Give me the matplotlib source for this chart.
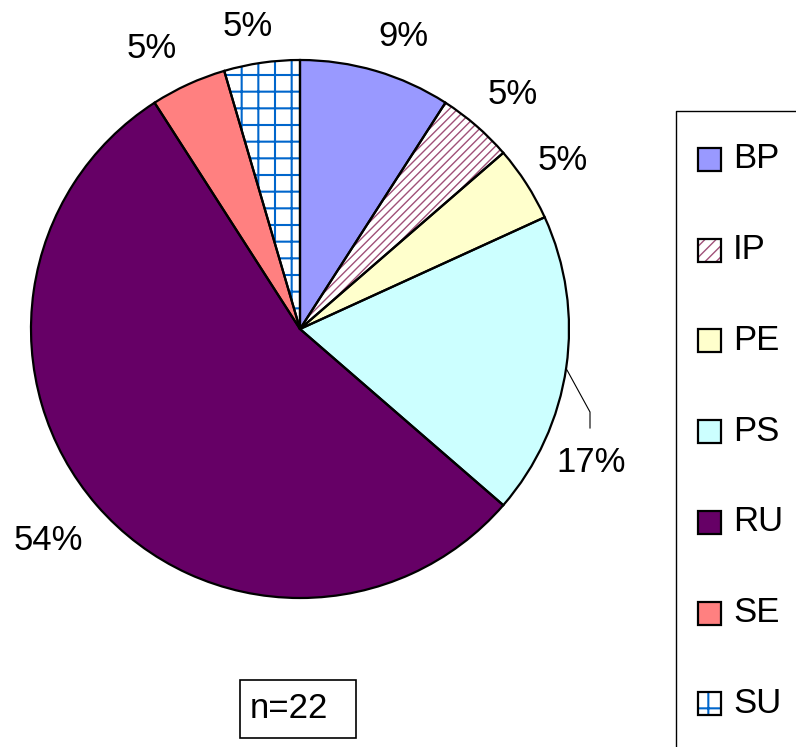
import matplotlib
matplotlib.use("Agg")
import matplotlib.pyplot as plt
from matplotlib.patches import Rectangle

plt.rcParams['font.family'] = ['Liberation Sans', 'DejaVu Sans']

# ---- data ----
categories = ["BP", "IP", "PE", "PS", "RU", "SE", "SU"]
counts = [2, 1, 1, 4, 12, 1, 1]          # n = 22
pct_labels = ["9%", "5%", "5%", "17%", "54%", "5%", "5%"]
n_label = "n=22"

# ---- styles ----
face_colors = ["#9999FF", "#FFFFFF", "#FFFFCC", "#CCFFFF", "#660066", "#FF8080", "#FFFFFF"]
hatch_colors = ["#9999FF", "#A05078", "#FFFFCC", "#CCFFFF", "#660066", "#FF8080", "#0066CC"]
hatches = [None, "////", None, None, None, None, "+"]
hatch_lw = [1.0, 1.0, 1.0, 1.0, 1.0, 1.0, 1.5]

W, H = 796, 747
fig = plt.figure(figsize=(W / 100, H / 100), dpi=100)
ax = fig.add_axes([0, 0, 1, 1])

def Y(y):
    return H - y

cx, cy, R = 300, 329, 269

# fill + hatch layer
wedges, _ = ax.pie(counts, center=(cx, Y(cy)), radius=R, startangle=90,
                   counterclock=False, colors=face_colors,
                   wedgeprops=dict(linewidth=0))
for w, hc, h, hl in zip(wedges, hatch_colors, hatches, hatch_lw):
    w.set_edgecolor(hc)
    if h:
        w.set_hatch(h)
        if hasattr(w, "set_hatch_linewidth"):
            w.set_hatch_linewidth(hl)
# outline layer
ax.pie(counts, center=(cx, Y(cy)), radius=R, startangle=90, counterclock=False,
       wedgeprops=dict(fill=False, edgecolor="black", linewidth=1.6))

# percentage labels
label_pos = [(403, 37), (513, 95), (563, 160), (591, 462), (48, 540), (152, 49), (248, 26)]
for txt, (x, y) in zip(pct_labels, label_pos):
    ax.text(x, Y(y), txt, fontsize=25, ha="center", va="center", color="black")

# leader line for 17%
ax.plot([567, 590, 590], [Y(370), Y(412), Y(428)], color="black", linewidth=0.8)

# n=22 box
ax.add_patch(Rectangle((240, Y(738)), 116, 58, fill=False, edgecolor="black", linewidth=1.2))
ax.text(289, Y(709), n_label, fontsize=25, ha="center", va="center")

# legend (manual)
ax.plot([676, 676, W + 5], [Y(H + 5), Y(111), Y(111)], color="black", linewidth=1.0, clip_on=False)
for i, cat in enumerate(categories):
    yc = 160 + 90.7 * i
    r = Rectangle((698, Y(yc + 11)), 23, 23, facecolor=face_colors[i],
                  edgecolor=hatch_colors[i], linewidth=0)
    if hatches[i]:
        r.set_hatch(hatches[i].replace("////", "///"))
        if hasattr(r, "set_hatch_linewidth"):
            r.set_hatch_linewidth(hatch_lw[i])
    ax.add_patch(r)
    ax.add_patch(Rectangle((698, Y(yc + 11)), 23, 23, fill=False, edgecolor="black", linewidth=1.6))
    ax.text(733, Y(yc - 1), cat, fontsize=25, ha="left", va="center")

ax.set_xlim(0, W)
ax.set_ylim(0, H)
ax.set_aspect("auto")
ax.axis("off")
fig.savefig("out.png", dpi=100)
